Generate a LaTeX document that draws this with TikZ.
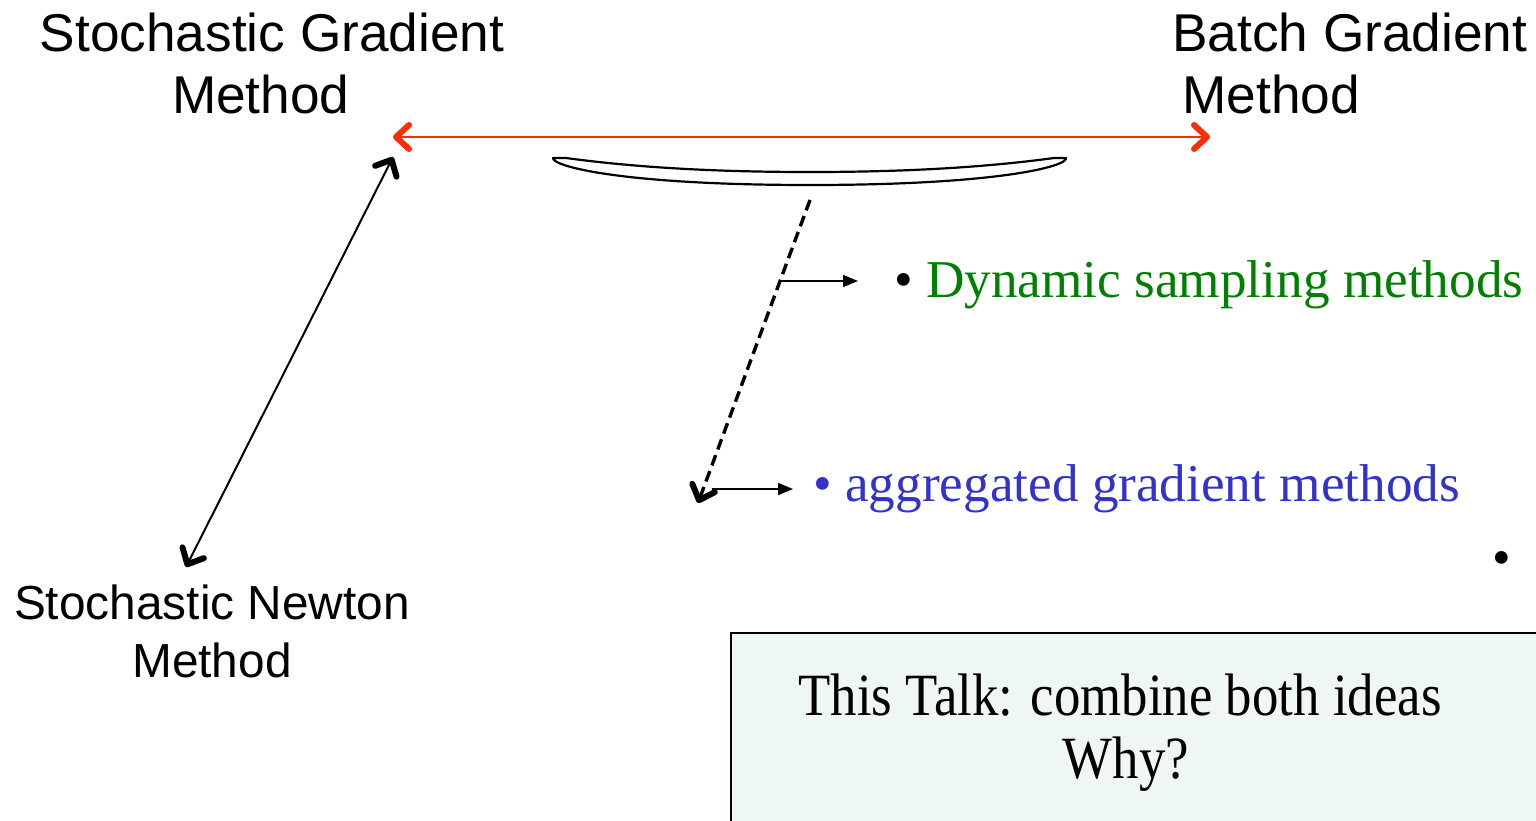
\documentclass[tikz,border=0pt]{standalone}
\usepackage{fontspec}
\setmainfont{Liberation Serif}
\setsansfont{Liberation Sans}
\newfontfamily\condserif[FakeStretch=0.88]{Liberation Serif}
\usetikzlibrary{arrows.meta,calc}
\definecolor{arrred}{RGB}{255,45,0}
\definecolor{dyngreen}{RGB}{0,128,0}
\definecolor{agblue}{RGB}{51,51,204}
\definecolor{boxfill}{RGB}{238,247,242}
\tikzset{mybarb/.tip={Straight Barb[length=6.5pt,width=12pt,line width=3pt,round]}}
\begin{document}
\begin{tikzpicture}[x=0.5pt,y=-0.5pt,
  biglabel/.style={font=\sffamily\fontsize{26.6}{31}\selectfont, inner sep=0pt, align=center},
  midlabel/.style={font=\sffamily\fontsize{23.9}{28.8}\selectfont, inner sep=0pt, align=center},
  bullettext/.style={font=\rmfamily\fontsize{26.6}{31}\selectfont, inner sep=0pt},
  openarrow/.style={line width=1pt, mybarb-mybarb},
  smallarrow/.style={line width=0.8pt, -{Triangle[length=7.5pt,width=6pt]}},
  brace/.style={line width=1.1pt, line join=round}]
\useasboundingbox (0,0) rectangle (1536,820);
\clip (0,0) rectangle (1536,820);

% labels
\node[biglabel, anchor=base] (sgm) at (272,113) {Stochastic Gradient\\Method\hspace*{0.42em}};
\node[biglabel, align=left, anchor=base west] (bgm) at (1172,113) {Batch Gradient\\\hspace*{0.19em}Method};
\node[midlabel, anchor=base] (snm) at (212,677) {Stochastic Newton\\Method};

% connector ends
\coordinate (redL) at (393,137);
\coordinate (redR) at (1210,137);
\coordinate (snTop) at (393,157);
\coordinate (snBot) at (186,567);

\draw[openarrow, draw=arrred] (redL) -- (redR);
\draw[openarrow] (snTop) -- (snBot);

% brace-like shape
\draw[brace] (553,158) -- (566,158)
  .. controls (640,168) and (720,172) .. (810,172)
  .. controls (900,172) and (980,168) .. (1054,158) -- (1066,158)
  .. controls (1068,166) and (1000,185) .. (810,185)
  .. controls (620,185) and (552,166) .. (553,158) -- cycle;

% dashed arrow
\coordinate (dTop) at (810,200);
\coordinate (dBot) at (698,503);
\draw[line width=1.7pt, dash pattern=on 5.5pt off 3pt, -mybarb] (dTop) -- (dBot);
\coordinate (s1) at ($(dTop)!0.2673!(dBot)$);
\coordinate (s2) at (712,489);

% bullet texts
\node[bullettext, anchor=base west] (dyn) at (894,297) {\textcolor{black}{•}\hspace{0.25em}\textcolor{dyngreen}{Dynamic sampling methods}};
\node[bullettext, anchor=base west, text=agblue] (agg) at (813,501) {•\hspace{0.25em}aggregated gradient methods};
\coordinate (dynL) at (858,281);
\coordinate (aggL) at (793,489);
\draw[smallarrow] (s1) -- (dynL);
\draw[smallarrow] (s2) -- (aggL);

\node[bullettext, anchor=base] (dot) at (1502,575) {•};

% talk box
\node[draw, line width=1pt, fill=boxfill, anchor=north west, minimum width=820, minimum height=200, inner sep=0pt] (talkbox) at (730,632) {};
\node[font=\condserif\fontsize{30}{31.5}\selectfont, inner sep=0pt, align=center, anchor=base] (talk) at (1120,778) {This Talk: combine both ideas\\\hspace*{0.2em}Why?};
\end{tikzpicture}
\end{document}
